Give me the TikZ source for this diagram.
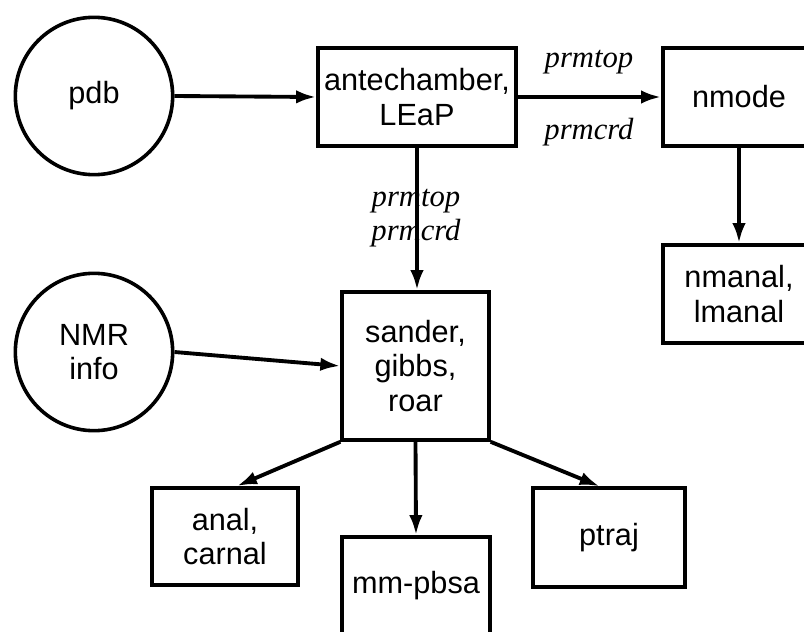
\documentclass[tikz,border=0pt]{standalone}
\usepackage{fontspec}
\setmainfont{Liberation Sans}
\newfontfamily\labelfont{Liberation Serif}
\usetikzlibrary{arrows.meta}
\tikzset{
  prog/.style={draw, line width=2.7pt, align=center, inner sep=0pt, font=\fontsize{23}{26}\selectfont},
  infile/.style={prog, circle, minimum size=118pt},
  flow/.style={line width=2.9pt, -{Latex[length=15pt,width=10pt]}},
  fname/.style={font=\labelfont\itshape\fontsize{23}{26}\selectfont, align=center, inner sep=0pt}
}
\begin{document}
\begin{tikzpicture}[x=0.75pt,y=0.75pt,yscale=-1,xscale=1]
\useasboundingbox (0,0) rectangle (804,632);

% Input files
\node [infile] (pdb) at (94,96) {pdb};
\node [infile] (nmr) at (94,352) {NMR\\info};

% Programs
\node [prog, minimum width=148.5pt, minimum height=73.5pt] (ante) at (417,97) {antechamber,\\LEaP};
\node [prog, minimum width=114pt, minimum height=73.5pt] (nmode) at (739,97) {nmode};
\node [prog, minimum width=114pt, minimum height=73.5pt] (nmanal) at (739,294) {nmanal,\\lmanal};
\node [prog, minimum width=110pt, minimum height=111pt] (sander) at (415.5,366) {sander,\\gibbs,\\roar};
\node [prog, minimum width=109.5pt, minimum height=73pt] (anal) at (225,536.5) {anal,\\carnal};
\node [prog, minimum width=111pt, minimum height=73.5pt] (mmpbsa) at (416,586) {mm-pbsa};
\node [prog, minimum width=114pt, minimum height=74pt] (ptraj) at (609,537.5) {ptraj};

% File labels
\node [fname] (topH) at (589,62) {prmtop};
\node [fname] (crdH) at (589,132) {prmcrd};
\node [fname] (filesV) at (416,218) {prmtop\\prmcrd};

% Connectors
\draw [flow] (pdb.east) -- (ante.west);
\draw [flow] (ante.east) -- (nmode.west);
\draw [flow] (nmode.south) -- (nmanal.north);
\draw [flow] (ante.south) -- (ante.south |- sander.north);
\draw [flow] (nmr.east) -- (sander.west);
\draw [flow] (sander.south west) -- ([xshift=9pt]anal.north);
\draw [flow] (sander.south) -- (mmpbsa.north);
\draw [flow] (sander.south east) -- ([xshift=-7pt]ptraj.north);

\end{tikzpicture}
\end{document}
